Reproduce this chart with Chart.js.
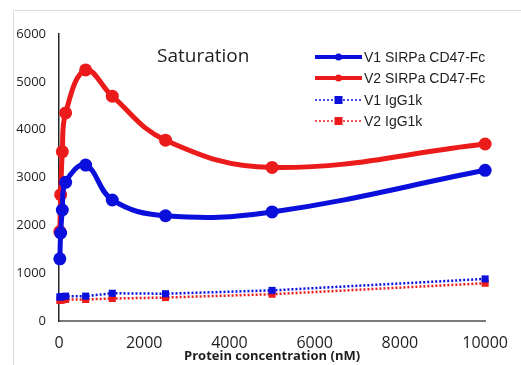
<!DOCTYPE html>
<html>
<head>
<meta charset="utf-8">
<script src="https://cdn.jsdelivr.net/npm/chart.js@4.4.0/dist/chart.umd.min.js"></script>
<style>
  html, body { margin: 0; padding: 0; background: #fff; }
  #wrap { width: 521px; height: 365px; }
</style>
</head>
<body>
<div id="wrap"><canvas id="satChart" width="521" height="365"></canvas></div>
<script>
// Protein concentration (nM) and signal
const concentration = [19.5, 39, 78, 156, 625, 1250, 2500, 5000, 10000];
const v1Sirpa = [1300, 1840, 2320, 2900, 3260, 2530, 2200, 2280, 3150];
const v2Sirpa = [1870, 2640, 3540, 4350, 5250, 4700, 3780, 3210, 3700];
const v1IgG = [500, 510, 510, 520, 520, 580, 570, 640, 880];
const v2IgG = [430, 440, 440, 450, 450, 470, 490, 560, 790];

const seriesNames = ['V1 SIRPa CD47-Fc', 'V2 SIRPa CD47-Fc', 'V1 IgG1k', 'V2 IgG1k'];
const xTickValues = [0, 2000, 4000, 6000, 8000, 10000];
const yTickValues = [0, 1000, 2000, 3000, 4000, 5000, 6000];

const BLUE = '#0a0fdc';
const RED = '#ec1b1b';
const TEXT = '#1e1e1e';

const toPoints = (ys) => concentration.map((c, i) => ({ x: c, y: ys[i] }));

// light frame around the figure (top + left edges only, it is cropped)
const framePlugin = {
    id: 'frame',
    beforeDraw(chart) {
        const ctx = chart.ctx;
        ctx.save();
        ctx.strokeStyle = '#dcdcdc';
        ctx.lineWidth = 1;
        ctx.beginPath();
        ctx.moveTo(13.5, 400);
        ctx.lineTo(13.5, 10.5);
        ctx.lineTo(530, 10.5);
        ctx.stroke();
        ctx.restore();
    }
};

// "Saturation" caption inside the plot
const captionPlugin = {
    id: 'caption',
    afterDraw(chart) {
        const ctx = chart.ctx;
        ctx.save();
        ctx.font = '19px "Open Sans", sans-serif';
        ctx.fillStyle = TEXT;
        ctx.textBaseline = 'middle';
        ctx.textAlign = 'left';
        ctx.fillText('Saturation', 157, 57);
        ctx.restore();
    }
};

// vertical legend, top right, drawn from the dataset styles
const legendPlugin = {
    id: 'boxLegend',
    afterDraw(chart) {
        const ctx = chart.ctx;
        const x0 = 315, x1 = 362, rowY = [57, 78, 100, 121];
        ctx.save();
        chart.data.datasets.forEach((ds, i) => {
            const y = rowY[i];
            const mid = (x0 + x1) / 2;
            const dotted = ds.pointStyle === 'rect';
            ctx.strokeStyle = ds.borderColor;
            ctx.lineWidth = dotted ? 1.6 : 4;
            ctx.setLineDash(dotted ? [2, 2] : []);
            ctx.beginPath();
            ctx.moveTo(x0, y);
            ctx.lineTo(x1, y);
            ctx.stroke();
            ctx.setLineDash([]);
            ctx.fillStyle = ds.borderColor;
            if (dotted) {
                ctx.fillRect(mid - 4, y - 4, 8, 8);
            } else {
                ctx.beginPath();
                ctx.arc(mid, y, 3.5, 0, Math.PI * 2);
                ctx.fill();
            }
            ctx.fillStyle = TEXT;
            ctx.font = '14px "Liberation Sans", Arial, sans-serif';
            ctx.textBaseline = 'middle';
            ctx.textAlign = 'left';
            ctx.fillText(ds.label, x1 + 2, y + 1);
        });
        ctx.restore();
    }
};

const mainLine = (label, ys, color) => ({
    label,
    data: toPoints(ys),
    borderColor: color,
    backgroundColor: color,
    borderWidth: 5,
    tension: 0.4,
    pointStyle: 'circle',
    pointRadius: 6.5,
    pointBorderWidth: 0,
    clip: false
});

const controlLine = (label, ys, color) => ({
    label,
    data: toPoints(ys),
    borderColor: color,
    backgroundColor: color,
    borderWidth: 2.5,
    borderDash: [2, 2],
    tension: 0,
    pointStyle: 'rect',
    pointRadius: 5,
    pointBorderWidth: 0,
    clip: false
});

new Chart(document.getElementById('satChart').getContext('2d'), {
    type: 'line',
    data: {
        datasets: [
            mainLine(seriesNames[0], v1Sirpa, BLUE),
            mainLine(seriesNames[1], v2Sirpa, RED),
            controlLine(seriesNames[2], v1IgG, BLUE),
            controlLine(seriesNames[3], v2IgG, RED)
        ]
    },
    options: {
        responsive: false,
        animation: false,
        layout: { padding: { left: 0, top: 34, right: 28, bottom: 0 } },
        scales: {
            x: {
                type: 'linear',
                min: 0,
                max: 10000,
                afterBuildTicks: (s) => { s.ticks = xTickValues.map(v => ({ value: v })); },
                afterFit: (s) => { s.height = 44; },
                grid: { display: false, drawTicks: false },
                border: { display: true, color: '#7a7a7a', width: 2 },
                ticks: {
                    padding: 13,
                    color: TEXT,
                    font: { family: '"Open Sans", sans-serif', size: 16 },
                    maxRotation: 0,
                    callback: (v) => String(v)
                },
                title: {
                    display: true,
                    text: 'Protein concentration (nM)',
                    color: TEXT,
                    font: { family: '"Open Sans", sans-serif', size: 13, weight: 'bold' },
                    padding: { top: 0, bottom: 1 }
                }
            },
            y: {
                min: 0,
                max: 6000,
                afterBuildTicks: (s) => { s.ticks = yTickValues.map(v => ({ value: v })); },
                afterFit: (s) => { s.width = 59; },
                grid: { display: false, drawTicks: false },
                border: { display: true, color: '#262626', width: 1.5 },
                ticks: {
                    padding: 13,
                    color: TEXT,
                    font: { family: '"Open Sans", sans-serif', size: 13 },
                    callback: (v) => String(v)
                }
            }
        },
        plugins: {
            legend: { display: false },
            tooltip: { enabled: false }
        }
    },
    plugins: [framePlugin, captionPlugin, legendPlugin]
});
</script>
</body>
</html>
